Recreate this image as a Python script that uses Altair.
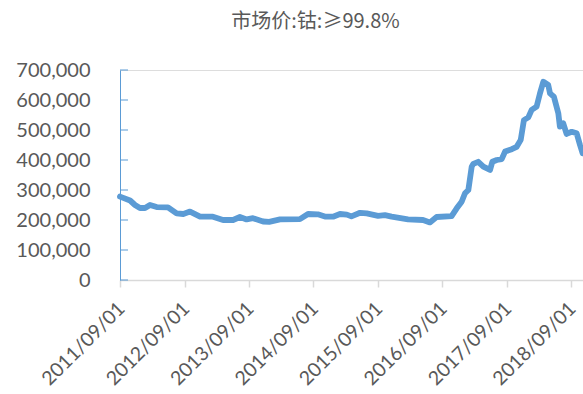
import altair as alt
import pandas as pd

# Cobalt (>=99.8%) market price, CNY/tonne
dates = [
    "2011-09-01", "2011-10-28", "2011-11-25", "2011-12-23", "2012-01-21",
    "2012-02-18", "2012-03-27", "2012-05-30", "2012-07-18", "2012-08-25",
    "2012-10-02", "2012-11-28", "2013-02-09", "2013-04-07", "2013-06-03",
    "2013-07-12", "2013-08-19", "2013-09-24", "2013-11-20", "2013-12-25",
    "2014-02-24", "2014-06-17", "2014-08-02", "2014-09-27", "2014-11-10",
    "2014-12-22", "2015-01-30", "2015-03-10", "2015-04-05", "2015-05-24",
    "2015-07-01", "2015-09-03", "2015-10-12", "2015-11-19", "2016-02-20",
    "2016-05-15", "2016-06-23", "2016-07-31", "2016-10-24", "2016-11-22",
    "2016-12-20", "2017-01-08", "2017-01-27", "2017-02-15", "2017-02-24",
    "2017-03-24", "2017-04-22", "2017-05-30", "2017-06-12", "2017-07-07",
    "2017-08-04", "2017-08-23", "2017-09-30", "2017-10-28", "2017-11-20",
    "2017-12-08", "2018-01-02", "2018-01-21", "2018-02-18", "2018-03-09",
    "2018-03-28", "2018-04-25", "2018-05-05", "2018-05-27", "2018-06-21",
    "2018-06-30", "2018-07-19", "2018-08-07", "2018-09-05", "2018-10-03",
    "2018-10-22", "2018-11-06",
]
prices = [
    278000, 265000, 250000, 240000, 240000,
    250000, 243000, 242000, 222000, 220000,
    228000, 211000, 211000, 200000, 200000,
    210000, 202000, 206000, 195000, 194000,
    202000, 203000, 220000, 219000, 211000,
    211000, 220000, 218000, 212000, 224000,
    222000, 214000, 216000, 211000, 202000,
    200000, 192000, 210000, 213000, 239000,
    261000, 289000, 300000, 378000, 387000,
    394000, 378000, 367000, 394000, 400000,
    403000, 428000, 436000, 444000, 467000,
    533000, 542000, 567000, 578000, 622000,
    661000, 650000, 622000, 611000, 556000,
    511000, 522000, 487000, 494000, 489000,
    450000, 422000,
]

# Axis ticks
x_ticks = ["2011-09-01", "2012-09-01", "2013-09-01", "2014-09-01",
           "2015-09-01", "2016-09-01", "2017-09-01", "2018-09-01"]
y_ticks = [0, 100000, 200000, 300000, 400000, 500000, 600000, 700000]
x_domain = ["2011-09-01", "2018-11-08"]

BLUE = "#5B9BD5"
TEXT = "#595959"
FONT = "Lato"


def utc(s):
    y, m, d = (int(p) for p in s.split("-"))
    return alt.DateTime(year=y, month=m, date=d, utc=True)


df = pd.DataFrame({"date": dates, "price": prices})
ticks_df = pd.DataFrame({"v": y_ticks})

x_enc = alt.X(
    "date:T",
    scale=alt.Scale(type="utc", domain=[utc(s) for s in x_domain]),
    axis=alt.Axis(
        values=[utc(s) for s in x_ticks],
        labelExpr="utcFormat(datum.value, '%Y/%m/%d')",
        labelAngle=315,
        labelFont=FONT,
        labelFontSize=19.5,
        labelColor=TEXT,
        labelPadding=12,
        labelOffset=-5,
        tickColor="#D9D9D9",
        tickSize=7,
        tickWidth=1.5,
        domainColor="#D9D9D9",
        domainWidth=1.5,
        grid=False,
        title=None,
        labelOverlap=False,
        labelBound=False,
        labelFlush=False,
    ),
)

y_scale = alt.Scale(domain=[0, 700000], nice=False)

y_axis = alt.Axis(
    values=y_ticks,
    format=",d",
    labelFont=FONT,
    labelFontSize=20,
    labelColor=TEXT,
    labelPadding=30,
    labelOverlap=False,
    labelFlush=False,
    ticks=False,
    domainColor=BLUE,
    domainWidth=1,
    grid=False,
    title=None,
)

line = alt.Chart(df).mark_line(
    color=BLUE, strokeWidth=5.8, strokeJoin="round", strokeCap="round"
).encode(
    x=x_enc,
    y=alt.Y("price:Q", scale=y_scale, axis=y_axis),
)

# Short tick marks drawn inward from the value axis
inner_ticks = alt.Chart(ticks_df).mark_rule(color=BLUE, strokeWidth=1).encode(
    y=alt.Y("v:Q", scale=y_scale, axis=y_axis),
    x=alt.value(0),
    x2=alt.value(8),
)

chart = alt.layer(line, inner_ticks).properties(
    width=463,
    height=210,
    title=alt.TitleParams(
        "市场价:钴:≥99.8%",
        font="Noto Sans CJK SC",
        fontSize=20,
        fontWeight="normal",
        color=TEXT,
        anchor="middle",
        dx=-36,
        offset=28,
    ),
    autosize=alt.AutoSizeParams(type="none"),
    padding={"left": 120, "top": 70, "right": 0, "bottom": 114},
).configure_view(stroke=None).configure(background="white")

chart.save("out.html", embed_options={"renderer": "svg", "actions": False})
